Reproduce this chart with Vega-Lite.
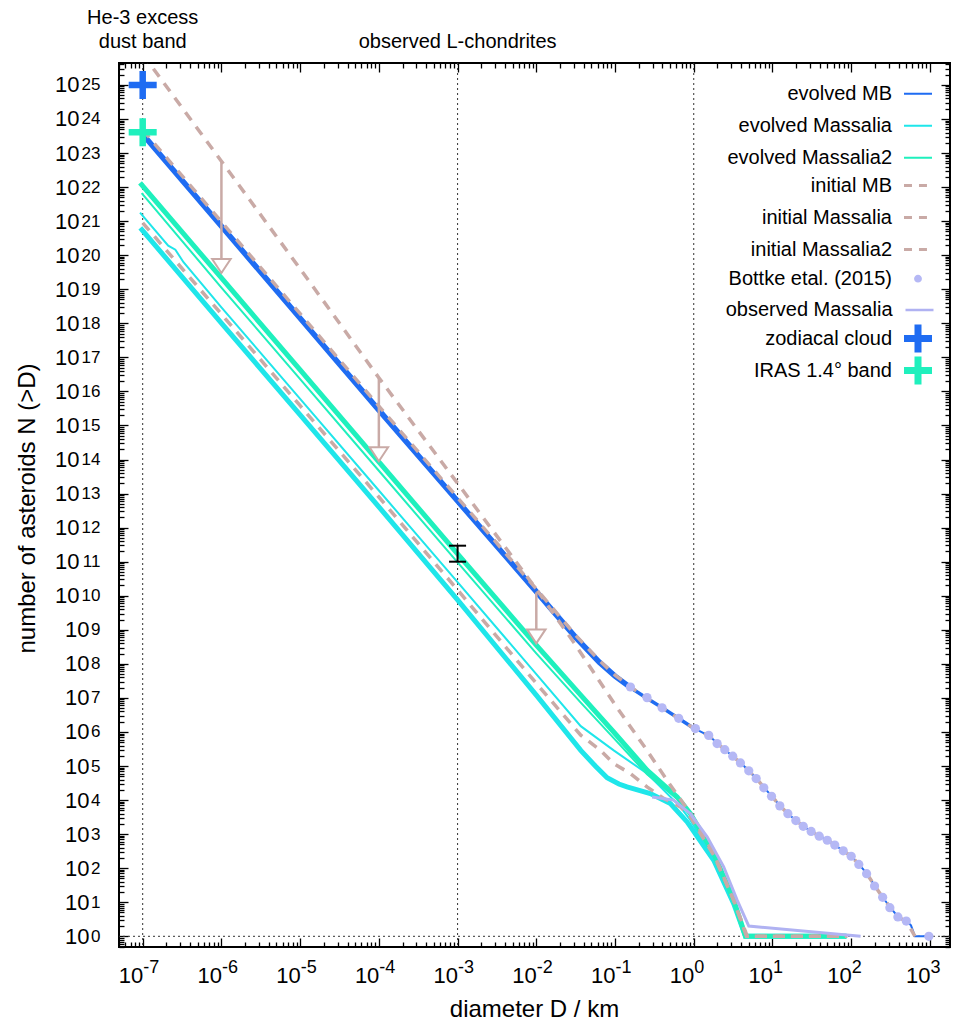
{
  "$schema": "https://vega.github.io/schema/vega-lite/v6.json",
  "width": 831,
  "height": 884,
  "autosize": {"type": "none"},
  "padding": {"left": 119, "top": 63, "right": 4, "bottom": 81},
  "background": "white",
  "config": {
    "view": {"stroke": "black", "strokeWidth": 2},
    "axis": {"grid": false, "domain": false, "labelFont": "Liberation Sans", "titleFont": "Liberation Sans", "labelColor": "black", "titleColor": "black", "titleFontWeight": "normal", "labelFlush": false, "labelOverlap": false, "labelBound": false, "tickColor": "black"},
    "legend": {"orient": "none", "title": null, "padding": 0, "labelFont": "Liberation Sans", "labelFontSize": 20, "labelColor": "black", "labelAlign": "right", "labelLimit": 400, "direction": "vertical", "columns": 1},
    "text": {"font": "Liberation Sans"}
  },
  "datasets": {
    "dummy": [{"D": 1, "N": 1}],
    "vlines": [{"D": 1e-7}, {"D": 1e-3}, {"D": 1}],
    "hline": [{"N": 1}],
    "curves": [
      {"c": "mb_ev_a", "D": 9.33e-8, "N": 4.47e23}, {"c": "mb_ev_a", "D": 1e-7, "N": 3.55e23}, {"c": "mb_ev_a", "D": 1e-6, "N": 7.08e20}, {"c": "mb_ev_a", "D": 1e-5, "N": 1.41e18}, {"c": "mb_ev_a", "D": 1e-4, "N": 2.82e15}, {"c": "mb_ev_a", "D": 1e-3, "N": 6.03e12}, {"c": "mb_ev_a", "D": 1e-2, "N": 1.32e10}, {"c": "mb_ev_a", "D": 0.0316, "N": 6.03e8}, {"c": "mb_ev_a", "D": 0.0631, "N": 1.12e8}, {"c": "mb_ev_a", "D": 0.1, "N": 4.37e7}, {"c": "mb_ev_a", "D": 0.158, "N": 2.0e7},
      {"c": "mb_ev_b", "D": 0.158, "N": 2.0e7}, {"c": "mb_ev_b", "D": 0.251, "N": 1.0e7}, {"c": "mb_ev_b", "D": 0.398, "N": 5.13e6}, {"c": "mb_ev_b", "D": 0.631, "N": 2.57e6}, {"c": "mb_ev_b", "D": 1.0, "N": 1.29e6},
      {"c": "mb_ev_c", "D": 1.0, "N": 1.29e6}, {"c": "mb_ev_c", "D": 1.585, "N": 7.59e5}, {"c": "mb_ev_c", "D": 2.0, "N": 4.57e5}, {"c": "mb_ev_c", "D": 2.51, "N": 2.95e5}, {"c": "mb_ev_c", "D": 3.16, "N": 1.91e5}, {"c": "mb_ev_c", "D": 3.98, "N": 1.2e5}, {"c": "mb_ev_c", "D": 5.01, "N": 7.24e4}, {"c": "mb_ev_c", "D": 6.31, "N": 4.17e4}, {"c": "mb_ev_c", "D": 7.94, "N": 2.24e4}, {"c": "mb_ev_c", "D": 10, "N": 1.23e4}, {"c": "mb_ev_c", "D": 12.6, "N": 6.61e3}, {"c": "mb_ev_c", "D": 15.8, "N": 3.89e3}, {"c": "mb_ev_c", "D": 20, "N": 2.51e3}, {"c": "mb_ev_c", "D": 25.1, "N": 1.66e3}, {"c": "mb_ev_c", "D": 31.6, "N": 1.17e3}, {"c": "mb_ev_c", "D": 39.8, "N": 851}, {"c": "mb_ev_c", "D": 50.1, "N": 646}, {"c": "mb_ev_c", "D": 63.1, "N": 468}, {"c": "mb_ev_c", "D": 79.4, "N": 324}, {"c": "mb_ev_c", "D": 100, "N": 224}, {"c": "mb_ev_c", "D": 126, "N": 129}, {"c": "mb_ev_c", "D": 158, "N": 69}, {"c": "mb_ev_c", "D": 200, "N": 30}, {"c": "mb_ev_c", "D": 251, "N": 14}, {"c": "mb_ev_c", "D": 316, "N": 6.9}, {"c": "mb_ev_c", "D": 398, "N": 3.6}, {"c": "mb_ev_c", "D": 501, "N": 2.8}, {"c": "mb_ev_c", "D": 575, "N": 2.1}, {"c": "mb_ev_c", "D": 646, "N": 1}, {"c": "mb_ev_c", "D": 881, "N": 1},
      {"c": "mb_init", "D": 1e-7, "N": 4.79e23}, {"c": "mb_init", "D": 1e-6, "N": 9.55e20}, {"c": "mb_init", "D": 1e-5, "N": 1.91e18}, {"c": "mb_init", "D": 1e-4, "N": 3.72e15}, {"c": "mb_init", "D": 1e-3, "N": 7.59e12}, {"c": "mb_init", "D": 1e-2, "N": 1.58e10}, {"c": "mb_init", "D": 0.0316, "N": 6.92e8}, {"c": "mb_init", "D": 0.0631, "N": 1.26e8}, {"c": "mb_init", "D": 0.1, "N": 4.68e7}, {"c": "mb_init", "D": 0.158, "N": 2.09e7}, {"c": "mb_init", "D": 0.251, "N": 1.0e7}, {"c": "mb_init", "D": 0.398, "N": 5.13e6}, {"c": "mb_init", "D": 0.631, "N": 2.57e6}, {"c": "mb_init", "D": 1.0, "N": 1.29e6}, {"c": "mb_init", "D": 1.585, "N": 7.59e5}, {"c": "mb_init", "D": 2.0, "N": 4.57e5}, {"c": "mb_init", "D": 2.51, "N": 2.95e5}, {"c": "mb_init", "D": 3.16, "N": 1.91e5}, {"c": "mb_init", "D": 3.98, "N": 1.2e5}, {"c": "mb_init", "D": 5.01, "N": 7.24e4}, {"c": "mb_init", "D": 6.31, "N": 4.17e4}, {"c": "mb_init", "D": 7.94, "N": 2.24e4}, {"c": "mb_init", "D": 10, "N": 1.23e4}, {"c": "mb_init", "D": 12.6, "N": 6.61e3}, {"c": "mb_init", "D": 15.8, "N": 3.89e3}, {"c": "mb_init", "D": 20, "N": 2.51e3}, {"c": "mb_init", "D": 25.1, "N": 1.66e3}, {"c": "mb_init", "D": 31.6, "N": 1.17e3}, {"c": "mb_init", "D": 39.8, "N": 851}, {"c": "mb_init", "D": 50.1, "N": 646}, {"c": "mb_init", "D": 63.1, "N": 468}, {"c": "mb_init", "D": 79.4, "N": 324}, {"c": "mb_init", "D": 100, "N": 224}, {"c": "mb_init", "D": 126, "N": 129}, {"c": "mb_init", "D": 158, "N": 69}, {"c": "mb_init", "D": 200, "N": 30}, {"c": "mb_init", "D": 251, "N": 14}, {"c": "mb_init", "D": 316, "N": 6.9}, {"c": "mb_init", "D": 398, "N": 3.6}, {"c": "mb_init", "D": 501, "N": 2.8}, {"c": "mb_init", "D": 646, "N": 1},
      {"c": "ms_thick", "D": 9.33e-8, "N": 6.31e20}, {"c": "ms_thick", "D": 1e-6, "N": 1.02e18}, {"c": "ms_thick", "D": 1e-5, "N": 2.04e15}, {"c": "ms_thick", "D": 1e-4, "N": 4.07e12}, {"c": "ms_thick", "D": 1e-3, "N": 7.59e9}, {"c": "ms_thick", "D": 1e-2, "N": 1.2e7}, {"c": "ms_thick", "D": 0.0367, "N": 2.88e5}, {"c": "ms_thick", "D": 0.0562, "N": 1.0e5}, {"c": "ms_thick", "D": 0.0793, "N": 4.5e4}, {"c": "ms_thick", "D": 0.112, "N": 2.95e4}, {"c": "ms_thick", "D": 0.142, "N": 2.43e4}, {"c": "ms_thick", "D": 0.281, "N": 1.55e4}, {"c": "ms_thick", "D": 0.505, "N": 7.91e3}, {"c": "ms_thick", "D": 0.824, "N": 2.28e3}, {"c": "ms_thick", "D": 1.795, "N": 171}, {"c": "ms_thick", "D": 3.22, "N": 9.1}, {"c": "ms_thick", "D": 4.54, "N": 1}, {"c": "ms_thick", "D": 87.1, "N": 1},
      {"c": "ms_thin", "D": 9.25e-8, "N": 1.78e21}, {"c": "ms_thin", "D": 2.11e-7, "N": 1.91e20}, {"c": "ms_thin", "D": 2.6e-7, "N": 1.45e20}, {"c": "ms_thin", "D": 3.3e-7, "N": 6.2e19}, {"c": "ms_thin", "D": 1e-6, "N": 2.95e18}, {"c": "ms_thin", "D": 1e-5, "N": 6.03e15}, {"c": "ms_thin", "D": 1e-4, "N": 1.23e13}, {"c": "ms_thin", "D": 1e-3, "N": 2.51e10}, {"c": "ms_thin", "D": 1e-2, "N": 5.01e7}, {"c": "ms_thin", "D": 0.0367, "N": 1.48e6}, {"c": "ms_thin", "D": 0.0962, "N": 2.88e5}, {"c": "ms_thin", "D": 0.255, "N": 6.03e4}, {"c": "ms_thin", "D": 0.377, "N": 2.45e4}, {"c": "ms_thin", "D": 0.676, "N": 6.31e3}, {"c": "ms_thin", "D": 0.906, "N": 2.57e3}, {"c": "ms_thin", "D": 1.795, "N": 200}, {"c": "ms_thin", "D": 3.22, "N": 10}, {"c": "ms_thin", "D": 4.54, "N": 1}, {"c": "ms_thin", "D": 87.1, "N": 1},
      {"c": "ms2_thick", "D": 9.25e-8, "N": 1.32e22}, {"c": "ms2_thick", "D": 1e-6, "N": 2.14e19}, {"c": "ms2_thick", "D": 1e-5, "N": 4.27e16}, {"c": "ms2_thick", "D": 1e-4, "N": 8.51e13}, {"c": "ms2_thick", "D": 1e-3, "N": 1.70e11}, {"c": "ms2_thick", "D": 1e-2, "N": 3.55e8}, {"c": "ms2_thick", "D": 0.0367, "N": 1.2e7}, {"c": "ms2_thick", "D": 0.0962, "N": 1.0e6}, {"c": "ms2_thick", "D": 0.255, "N": 7.59e4}, {"c": "ms2_thick", "D": 0.615, "N": 1.23e4}, {"c": "ms2_thick", "D": 0.908, "N": 3.98e3}, {"c": "ms2_thick", "D": 1.795, "N": 269}, {"c": "ms2_thick", "D": 3.22, "N": 11.5}, {"c": "ms2_thick", "D": 4.54, "N": 1}, {"c": "ms2_thick", "D": 87.1, "N": 1},
      {"c": "ms2_thin", "D": 9.7e-8, "N": 6.61e21}, {"c": "ms2_thin", "D": 1e-6, "N": 1.12e19}, {"c": "ms2_thin", "D": 1e-5, "N": 2.29e16}, {"c": "ms2_thin", "D": 1e-4, "N": 4.68e13}, {"c": "ms2_thin", "D": 1e-3, "N": 9.55e10}, {"c": "ms2_thin", "D": 1e-2, "N": 2.04e8}, {"c": "ms2_thin", "D": 0.0367, "N": 7.24e6}, {"c": "ms2_thin", "D": 0.0962, "N": 6.61e5}, {"c": "ms2_thin", "D": 0.255, "N": 5.75e4}, {"c": "ms2_thin", "D": 0.615, "N": 1.10e4}, {"c": "ms2_thin", "D": 0.908, "N": 3.8e3}, {"c": "ms2_thin", "D": 1.795, "N": 251}, {"c": "ms2_thin", "D": 3.22, "N": 11}, {"c": "ms2_thin", "D": 4.54, "N": 1}, {"c": "ms2_thin", "D": 87.1, "N": 1},
      {"c": "ms_init", "D": 1e-7, "N": 8.91e20}, {"c": "ms_init", "D": 1e-6, "N": 1.86e18}, {"c": "ms_init", "D": 1e-5, "N": 3.8e15}, {"c": "ms_init", "D": 1e-4, "N": 7.94e12}, {"c": "ms_init", "D": 1e-3, "N": 1.48e10}, {"c": "ms_init", "D": 9.25e-3, "N": 3.31e7}, {"c": "ms_init", "D": 0.0367, "N": 8.04e5}, {"c": "ms_init", "D": 0.0652, "N": 2.91e5}, {"c": "ms_init", "D": 0.0962, "N": 1.17e5}, {"c": "ms_init", "D": 0.157, "N": 6.03e4}, {"c": "ms_init", "D": 0.255, "N": 2.45e4}, {"c": "ms_init", "D": 0.415, "N": 1.12e4}, {"c": "ms_init", "D": 0.676, "N": 6.31e3}, {"c": "ms_init", "D": 0.906, "N": 3.16e3}, {"c": "ms_init", "D": 1.795, "N": 240}, {"c": "ms_init", "D": 3.22, "N": 11.5}, {"c": "ms_init", "D": 4.78, "N": 1}, {"c": "ms_init", "D": 89.1, "N": 1},
      {"c": "ms2_init", "D": 1e-7, "N": 7.94e25}, {"c": "ms2_init", "D": 1e-6, "N": 5.75e22}, {"c": "ms2_init", "D": 1e-5, "N": 3.98e19}, {"c": "ms2_init", "D": 1e-4, "N": 2.51e16}, {"c": "ms2_init", "D": 1e-3, "N": 2.0e13}, {"c": "ms2_init", "D": 1e-2, "N": 1.58e10}, {"c": "ms2_init", "D": 0.0316, "N": 3.55e8}, {"c": "ms2_init", "D": 0.1, "N": 6.31e6}, {"c": "ms2_init", "D": 0.251, "N": 3.02e5}, {"c": "ms2_init", "D": 0.501, "N": 2.82e4}, {"c": "ms2_init", "D": 0.912, "N": 3.98e3}, {"c": "ms2_init", "D": 1.778, "N": 282}, {"c": "ms2_init", "D": 3.16, "N": 12.6}, {"c": "ms2_init", "D": 4.68, "N": 1}, {"c": "ms2_init", "D": 89.1, "N": 1},
      {"c": "obs", "D": 0.296, "N": 1.23e4}, {"c": "obs", "D": 0.556, "N": 1.0e4}, {"c": "obs", "D": 0.906, "N": 3.98e3}, {"c": "obs", "D": 1.48, "N": 832}, {"c": "obs", "D": 2.40, "N": 110}, {"c": "obs", "D": 3.56, "N": 11.5}, {"c": "obs", "D": 5.0, "N": 2}, {"c": "obs", "D": 131.5, "N": 1}
    ],
    "bottke": [
      {"D": 0.157, "N": 2.09e7}, {"D": 0.255, "N": 1.02e7}, {"D": 0.396, "N": 5.13e6}, {"D": 0.644, "N": 2.51e6}, {"D": 1.05, "N": 1.26e6}, {"D": 1.55, "N": 7.94e5}, {"D": 1.98, "N": 4.57e5}, {"D": 2.48, "N": 3.02e5}, {"D": 3.13, "N": 1.95e5}, {"D": 3.92, "N": 1.23e5}, {"D": 5.0, "N": 7.24e4}, {"D": 6.21, "N": 4.27e4}, {"D": 7.76, "N": 2.29e4}, {"D": 9.73, "N": 1.29e4}, {"D": 12.4, "N": 6.76e3}, {"D": 15.7, "N": 3.98e3}, {"D": 19.8, "N": 2.51e3}, {"D": 24.6, "N": 1.70e3}, {"D": 31.0, "N": 1.20e3}, {"D": 39.3, "N": 871}, {"D": 49.7, "N": 661}, {"D": 61.9, "N": 479}, {"D": 79.3, "N": 324}, {"D": 100, "N": 224}, {"D": 125, "N": 129}, {"D": 157, "N": 69}, {"D": 198, "N": 30}, {"D": 251, "N": 14}, {"D": 310, "N": 6.9}, {"D": 392, "N": 3.7}, {"D": 501, "N": 2.8}, {"D": 970, "N": 1}
    ],
    "arrows": [
      {"D": 1e-6, "N": 5.5e22, "N2": 3.0e19},
      {"D": 1e-4, "N": 2.45e16, "N2": 8.9e13},
      {"D": 1e-2, "N": 1.26e10, "N2": 3.98e8}
    ],
    "errbar": [{"D": 1e-3, "N": 1e11, "N2": 2.95e11}],
    "crosses": [
      {"series": "zodiacal cloud", "D": 1e-7, "N": 1e25},
      {"series": "IRAS 1.4° band", "D": 1e-7, "N": 4.1e23}
    ],
    "notes_low": [{"D": 1e-7, "text": "dust band"}, {"D": 1e-3, "text": "observed L-chondrites"}],
    "notes_high": [{"D": 1e-7, "text": "He-3 excess"}],
    "leg_evolved": [{"s1": "evolved MB"}, {"s1": "evolved Massalia"}, {"s1": "evolved Massalia2"}],
    "leg_initial": [{"s2": "initial MB"}, {"s2": "initial Massalia"}, {"s2": "initial Massalia2"}],
    "leg_bottke": [{"s3": "Bottke etal. (2015)"}],
    "leg_observed": [{"s4": "observed Massalia"}],
    "leg_dust": [{"s5": "zodiacal cloud"}, {"s5": "IRAS 1.4° band"}]
  },
  "layer": [
    {
      "data": {"name": "dummy"},
      "mark": {"type": "point", "opacity": 0},
      "encoding": {
        "x": {"field": "D", "type": "quantitative", "scale": {"type": "log", "domain": [5e-8, 1800], "nice": false},
          "axis": {"orient": "bottom", "values": [1e-7, 1e-6, 1e-5, 1e-4, 1e-3, 1e-2, 1e-1, 1, 10, 100, 1000], "labelExpr": "'10'", "ticks": false, "labelAlign": "right", "labelBaseline": "top", "labelPadding": 18, "labelFontSize": 22, "title": "diameter D / km", "titleFontSize": 24, "titleX": 415, "titleY": 69, "titleBaseline": "alphabetic", "titleAlign": "center"}},
        "y": {"field": "N", "type": "quantitative", "scale": {"type": "log", "domain": [0.485, 4.4e25], "nice": false},
          "axis": {"orient": "left", "values": [1, 10, 100, 1e3, 1e4, 1e5, 1e6, 1e7, 1e8, 1e9, 1e10, 1e11, 1e12, 1e13, 1e14, 1e15, 1e16, 1e17, 1e18, 1e19, 1e20, 1e21, 1e22, 1e23, 1e24, 1e25], "labelExpr": "'10'", "ticks": false, "labelAlign": "right", "labelBaseline": "middle", "labelPadding": {"condition": {"test": "datum.value >= 1e10", "value": 40}, "value": 30}, "labelFontSize": 22, "title": "number of asteroids N (>D)", "titleFontSize": 24, "titleAngle": 270, "titleX": -85, "titleY": 445, "titleAlign": "center", "titleBaseline": "alphabetic"}}
      }
    },
    {
      "data": {"name": "dummy"},
      "mark": {"type": "point", "opacity": 0},
      "encoding": {
        "x": {"field": "D", "type": "quantitative", "scale": {"type": "log", "domain": [5e-8, 1800], "nice": false},
          "axis": {"orient": "bottom", "values": [1e-7, 1e-6, 1e-5, 1e-4, 1e-3, 1e-2, 1e-1, 1, 10, 100, 1000], "labelExpr": "'' + round(log(datum.value) / LN10)", "ticks": false, "labelAlign": "left", "labelBaseline": "top", "labelPadding": 11, "labelDx": 2, "labelFontSize": 18, "title": null}},
        "y": {"field": "N", "type": "quantitative", "scale": {"type": "log", "domain": [0.485, 4.4e25], "nice": false},
          "axis": {"orient": "left", "values": [1, 10, 100, 1e3, 1e4, 1e5, 1e6, 1e7, 1e8, 1e9, 1e10, 1e11, 1e12, 1e13, 1e14, 1e15, 1e16, 1e17, 1e18, 1e19, 1e20, 1e21, 1e22, 1e23, 1e24, 1e25], "labelExpr": "'' + round(log(datum.value) / LN10)", "ticks": false, "labelAlign": "right", "labelBaseline": "middle", "labelPadding": 19, "labelDy": -10, "labelFontSize": 17, "title": null}}
      }
    },
    {
      "data": {"name": "dummy"},
      "mark": {"type": "point", "opacity": 0},
      "encoding": {
        "x": {"field": "D", "type": "quantitative", "scale": {"type": "log", "domain": [5e-8, 1800], "nice": false},
          "axis": {"orient": "bottom", "tickCount": 20, "labels": false, "ticks": true, "tickWidth": 1.3, "tickSize": {"condition": {"test": "abs(log(datum.value)/LN10 - round(log(datum.value)/LN10)) < 0.001", "value": -9}, "value": -5}, "title": null}},
        "y": {"field": "N", "type": "quantitative", "scale": {"type": "log", "domain": [0.485, 4.4e25], "nice": false},
          "axis": {"orient": "left", "tickCount": 40, "labels": false, "ticks": true, "tickWidth": 1.3, "tickSize": {"condition": {"test": "abs(log(datum.value)/LN10 - round(log(datum.value)/LN10)) < 0.001", "value": -9}, "value": -5}, "title": null}}
      }
    },
    {
      "data": {"name": "dummy"},
      "mark": {"type": "point", "opacity": 0},
      "encoding": {
        "x": {"field": "D", "type": "quantitative", "scale": {"type": "log", "domain": [5e-8, 1800], "nice": false},
          "axis": {"orient": "top", "tickCount": 20, "labels": false, "ticks": true, "tickWidth": 1.3, "tickSize": {"condition": {"test": "abs(log(datum.value)/LN10 - round(log(datum.value)/LN10)) < 0.001", "value": -9}, "value": -5}, "title": null}},
        "y": {"field": "N", "type": "quantitative", "scale": {"type": "log", "domain": [0.485, 4.4e25], "nice": false},
          "axis": {"orient": "right", "tickCount": 40, "labels": false, "ticks": true, "tickWidth": 1.3, "tickSize": {"condition": {"test": "abs(log(datum.value)/LN10 - round(log(datum.value)/LN10)) < 0.001", "value": -9}, "value": -5}, "title": null}}
      }
    },
    {
      "data": {"name": "vlines"},
      "mark": {"type": "rule", "color": "#333333", "strokeWidth": 1, "strokeDash": [2, 3]},
      "encoding": {"x": {"field": "D", "type": "quantitative", "axis": null}}
    },
    {
      "data": {"name": "hline"},
      "mark": {"type": "rule", "color": "#333333", "strokeWidth": 1, "strokeDash": [2, 3]},
      "encoding": {"y": {"field": "N", "type": "quantitative", "axis": null}}
    },
    {
      "data": {"name": "curves"},
      "transform": [{"filter": "datum.c === 'ms_thick'"}],
      "mark": {"type": "line", "color": "#1fe6ea", "strokeWidth": 5, "clip": true},
      "encoding": {"x": {"field": "D", "type": "quantitative", "axis": null}, "y": {"field": "N", "type": "quantitative", "axis": null}}
    },
    {
      "data": {"name": "curves"},
      "transform": [{"filter": "datum.c === 'ms_thin'"}],
      "mark": {"type": "line", "color": "#1fe6ea", "strokeWidth": 2, "clip": true},
      "encoding": {"x": {"field": "D", "type": "quantitative", "axis": null}, "y": {"field": "N", "type": "quantitative", "axis": null}}
    },
    {
      "data": {"name": "curves"},
      "transform": [{"filter": "datum.c === 'ms2_thick'"}],
      "mark": {"type": "line", "color": "#1ff0bd", "strokeWidth": 5, "clip": true},
      "encoding": {"x": {"field": "D", "type": "quantitative", "axis": null}, "y": {"field": "N", "type": "quantitative", "axis": null}}
    },
    {
      "data": {"name": "curves"},
      "transform": [{"filter": "datum.c === 'ms2_thin'"}],
      "mark": {"type": "line", "color": "#1ff0bd", "strokeWidth": 2, "clip": true},
      "encoding": {"x": {"field": "D", "type": "quantitative", "axis": null}, "y": {"field": "N", "type": "quantitative", "axis": null}}
    },
    {
      "data": {"name": "curves"},
      "transform": [{"filter": "datum.c === 'mb_ev_a'"}],
      "mark": {"type": "line", "color": "#1f6cf2", "strokeWidth": 5.5, "clip": true},
      "encoding": {"x": {"field": "D", "type": "quantitative", "axis": null}, "y": {"field": "N", "type": "quantitative", "axis": null}}
    },
    {
      "data": {"name": "curves"},
      "transform": [{"filter": "datum.c === 'mb_ev_b'"}],
      "mark": {"type": "line", "color": "#1f6cf2", "strokeWidth": 3.5, "clip": true},
      "encoding": {"x": {"field": "D", "type": "quantitative", "axis": null}, "y": {"field": "N", "type": "quantitative", "axis": null}}
    },
    {
      "data": {"name": "curves"},
      "transform": [{"filter": "datum.c === 'mb_ev_c'"}],
      "mark": {"type": "line", "color": "#1f6cf2", "strokeWidth": 2, "clip": true},
      "encoding": {"x": {"field": "D", "type": "quantitative", "axis": null}, "y": {"field": "N", "type": "quantitative", "axis": null}}
    },
    {
      "data": {"name": "curves"},
      "transform": [{"filter": "datum.c === 'mb_init' || datum.c === 'ms_init' || datum.c === 'ms2_init'"}],
      "mark": {"type": "line", "color": "#c9aaa6", "strokeWidth": 3.5, "strokeDash": [10, 8], "clip": true},
      "encoding": {"detail": {"field": "c"}, "x": {"field": "D", "type": "quantitative", "axis": null}, "y": {"field": "N", "type": "quantitative", "axis": null}}
    },
    {
      "data": {"name": "bottke"},
      "mark": {"type": "point", "filled": true, "color": "#b5b8f5", "opacity": 1, "size": 85},
      "encoding": {"x": {"field": "D", "type": "quantitative", "axis": null}, "y": {"field": "N", "type": "quantitative", "axis": null}}
    },
    {
      "data": {"name": "curves"},
      "transform": [{"filter": "datum.c === 'obs'"}],
      "mark": {"type": "line", "color": "#b0b2f2", "strokeWidth": 3, "clip": true},
      "encoding": {"x": {"field": "D", "type": "quantitative", "axis": null}, "y": {"field": "N", "type": "quantitative", "axis": null}}
    },
    {
      "data": {"name": "arrows"},
      "mark": {"type": "rule", "color": "#c9aaa6", "strokeWidth": 2.5},
      "encoding": {"x": {"field": "D", "type": "quantitative", "axis": null}, "y": {"field": "N", "type": "quantitative", "axis": null}, "y2": {"field": "N2"}}
    },
    {
      "data": {"name": "arrows"},
      "mark": {"type": "point", "shape": "M-0.66,-1L0.66,-1L0,0Z", "size": 784, "filled": true, "fill": "white", "stroke": "#c9aaa6", "strokeWidth": 2, "opacity": 1},
      "encoding": {"x": {"field": "D", "type": "quantitative", "axis": null}, "y": {"field": "N2", "type": "quantitative", "axis": null}}
    },
    {
      "data": {"name": "errbar"},
      "mark": {"type": "rule", "color": "black", "strokeWidth": 2},
      "encoding": {"x": {"field": "D", "type": "quantitative", "axis": null}, "y": {"field": "N", "type": "quantitative", "axis": null}, "y2": {"field": "N2"}}
    },
    {
      "data": {"name": "errbar"},
      "mark": {"type": "point", "shape": "M-1,0H1", "size": 289, "filled": false, "stroke": "black", "strokeWidth": 2, "opacity": 1},
      "encoding": {"x": {"field": "D", "type": "quantitative", "axis": null}, "y": {"field": "N", "type": "quantitative", "axis": null}}
    },
    {
      "data": {"name": "errbar"},
      "mark": {"type": "point", "shape": "M-1,0H1", "size": 289, "filled": false, "stroke": "black", "strokeWidth": 2, "opacity": 1},
      "encoding": {"x": {"field": "D", "type": "quantitative", "axis": null}, "y": {"field": "N2", "type": "quantitative", "axis": null}}
    },
    {
      "data": {"name": "crosses"},
      "mark": {"type": "point", "shape": "M-1,0H1M0,-1V1", "size": 784, "filled": false, "strokeWidth": 6.5, "strokeCap": "butt", "opacity": 1},
      "encoding": {"x": {"field": "D", "type": "quantitative", "axis": null}, "y": {"field": "N", "type": "quantitative", "axis": null}, "color": {"condition": {"test": "datum.series === 'zodiacal cloud'", "value": "#1f6cf2"}, "value": "#1ff0bd"}}
    },
    {
      "data": {"name": "notes_low"},
      "mark": {"type": "text", "fontSize": 20, "align": "center", "baseline": "alphabetic", "dy": -15.5, "color": "black", "clip": false},
      "encoding": {"x": {"field": "D", "type": "quantitative", "axis": null}, "y": {"datum": 4.4e25, "type": "quantitative", "axis": null}, "text": {"field": "text"}}
    },
    {
      "data": {"name": "notes_high"},
      "mark": {"type": "text", "fontSize": 20, "align": "center", "baseline": "alphabetic", "dy": -39.3, "color": "black", "clip": false},
      "encoding": {"x": {"field": "D", "type": "quantitative", "axis": null}, "y": {"datum": 4.4e25, "type": "quantitative", "axis": null}, "text": {"field": "text"}}
    },
    {
      "data": {"name": "leg_evolved"},
      "mark": {"type": "point", "opacity": 0, "filled": true},
      "encoding": {
        "fill": {"field": "s1", "type": "nominal",
          "scale": {"domain": ["evolved MB", "evolved Massalia", "evolved Massalia2"], "range": ["#1f6cf2", "#1fe6ea", "#1ff0bd"]},
          "legend": {"legendX": 785, "legendY": 16.75, "symbolType": "M-1,-0.072H1V0.072H-1ZM0,-1.09M0,1.09", "symbolSize": 784, "symbolStrokeWidth": 0, "rowPadding": 0, "labelOffset": -40}}
      }
    },
    {
      "data": {"name": "leg_initial"},
      "mark": {"type": "point", "opacity": 0, "filled": true, "color": "#c9aaa6"},
      "encoding": {
        "shape": {"field": "s2", "type": "nominal",
          "scale": {"domain": ["initial MB", "initial Massalia", "initial Massalia2"], "range": ["M-1,-0.107H-0.43V0.107H-1ZM0.07,-0.107H0.64V0.107H0.07ZM0,-1.09M0,1.09", "M-1,-0.107H-0.43V0.107H-1ZM0.07,-0.107H0.64V0.107H0.07ZM0,-1.09M0,1.09", "M-1,-0.107H-0.43V0.107H-1ZM0.07,-0.107H0.64V0.107H0.07ZM0,-1.09M0,1.09"]},
          "legend": {"legendX": 785, "legendY": 108.55, "symbolSize": 784, "symbolStrokeWidth": 0, "symbolFillColor": "#c9aaa6", "rowPadding": 0, "labelOffset": -40}}
      }
    },
    {
      "data": {"name": "leg_bottke"},
      "mark": {"type": "point", "opacity": 0, "filled": true, "color": "#b5b8f5"},
      "encoding": {
        "stroke": {"field": "s3", "type": "nominal",
          "scale": {"domain": ["Bottke etal. (2015)"], "range": ["#b5b8f5"]},
          "legend": {"legendX": 785, "legendY": 201.7, "symbolType": "M-0.28,0A0.28,0.28,0,1,1,0.28,0A0.28,0.28,0,1,1,-0.28,0ZM0,-1.1M0,1.1", "symbolSize": 784, "symbolStrokeWidth": 0, "symbolFillColor": "#b5b8f5", "labelOffset": -40}}
      }
    },
    {
      "data": {"name": "leg_observed"},
      "mark": {"type": "point", "opacity": 0, "color": "#b0b2f2"},
      "encoding": {
        "strokeDash": {"field": "s4", "type": "nominal",
          "scale": {"domain": ["observed Massalia"], "range": [[1, 0]]},
          "legend": {"legendX": 785, "legendY": 231.6, "symbolType": "M-1,0H1M0,-1.1M0,1.1", "symbolSize": 784, "symbolStrokeWidth": 2.5, "symbolStrokeColor": "#b0b2f2", "symbolFillColor": "transparent", "labelOffset": -42.5}}
      }
    },
    {
      "data": {"name": "leg_dust"},
      "mark": {"type": "point", "opacity": 0, "filled": true},
      "encoding": {
        "color": {"field": "s5", "type": "nominal",
          "scale": {"domain": ["zodiacal cloud", "IRAS 1.4° band"], "range": ["#1f6cf2", "#1ff0bd"]},
          "legend": {"legendX": 785, "legendY": 261.55, "symbolType": "M-1,-0.25H-0.25V-1H0.25V-0.25H1V0.25H0.25V1H-0.25V0.25H-1ZM0,-1.09M0,1.09", "symbolSize": 784, "symbolStrokeWidth": 0, "rowPadding": 0, "labelOffset": -40}}
      }
    }
  ],
  "resolve": {"axis": {"x": "independent", "y": "independent"}}
}
